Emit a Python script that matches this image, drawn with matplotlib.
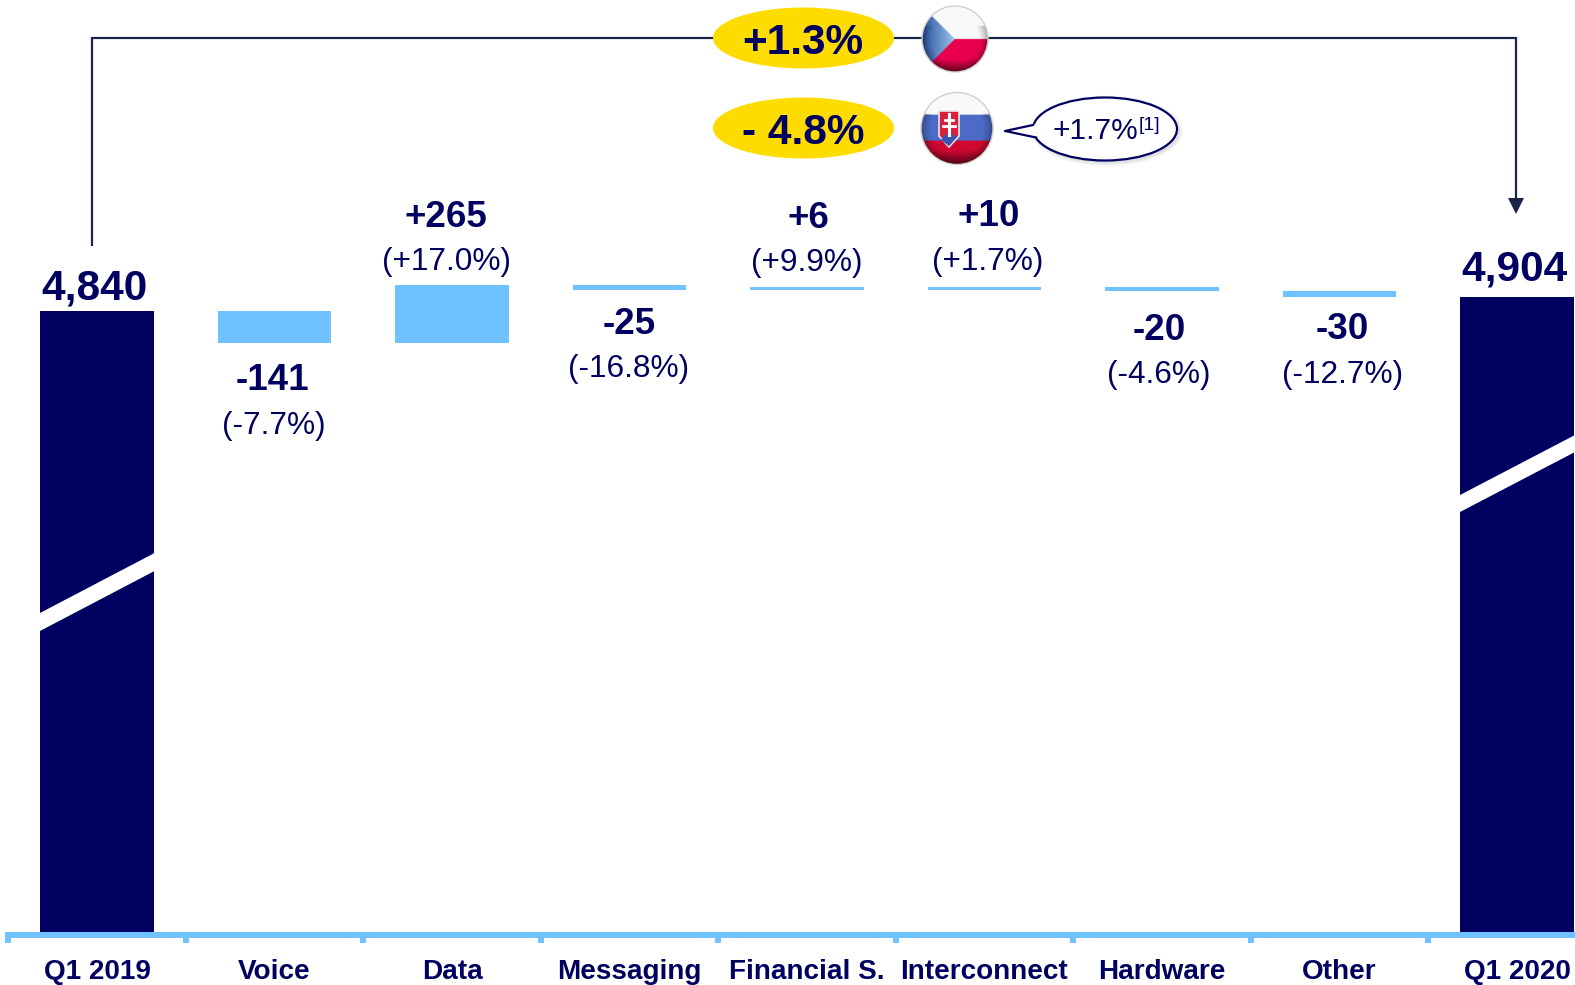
import numpy as np
import matplotlib
matplotlib.use('Agg')
import matplotlib.pyplot as plt
from matplotlib.patches import Ellipse, Polygon, Circle
from matplotlib.ticker import FixedLocator

plt.rcParams['font.family'] = ['Liberation Sans', 'DejaVu Sans']

# Data
categories = ['Q1 2019', 'Voice', 'Data', 'Messaging', 'Financial S.', 'Interconnect', 'Hardware', 'Other', 'Q1 2020']
start_total = 4840
end_total = 4904
# step bars
step_tops = [4840, 4957.5, 4957.5, 4949, 4949, 4949, 4931]
step_bottoms = [4692, 4692, 4937, 4938, 4938, 4930, 4902.6]
delta_labels = ['-141', '+265', '-25', '+6', '+10', '-20', '-30']
pct_labels = ['(-7.7%)', '(+17.0%)', '(-16.8%)', '(+9.9%)', '(+1.7%)', '(-4.6%)', '(-12.7%)']
total_labels = ['4,840', '4,904']
cz_change = '+1.3%'
sk_change = '- 4.8%'
sk_note = '+1.7%'
sk_note_ref = '[1]'

NAVY = '#000060'
BLUE = '#70C1FF'
YELLOW = '#FFDC00'
LINE = '#1A2548'

W, H = 1575, 985
PX_PER_UNIT = 0.2188
BASE = 2002  # truncated axis, value at the baseline

fig = plt.figure(figsize=(W / 100, H / 100), dpi=100)
ax = fig.add_axes([0, 0, 1, 1])
ax.set_xlim(-97 / 177.5, (W - 97) / 177.5)
ax.set_ylim(BASE - (H - 932) / PX_PER_UNIT, BASE + 932 / PX_PER_UNIT)

# Totals and waterfall steps
ax.bar([0, 8], [start_total - BASE, end_total - BASE], bottom=BASE, width=0.64, color=NAVY)
tops = np.array(step_tops)
bottoms = np.array(step_bottoms)
ax.bar(np.arange(1, 8), tops - bottoms, bottom=bottoms, width=0.64, color=BLUE)

# Axis
for s in ['top', 'left', 'right']:
    ax.spines[s].set_visible(False)
ax.spines['bottom'].set_position(('data', BASE - 3 / PX_PER_UNIT))
ax.spines['bottom'].set_color(BLUE)
ax.spines['bottom'].set_linewidth(4.3)
ax.spines['bottom'].set_bounds(-0.5, ax.get_xlim()[1])
ax.set_zorder(1)
ax.set_yticks([])
ax.set_xticks(range(len(categories)))
ax.set_xticklabels(categories, fontsize=20.1, fontweight='bold', color=NAVY)
ax.tick_params(axis='x', which='major', length=0, pad=17)
ax.xaxis.set_minor_locator(FixedLocator(np.arange(-0.5, 8, 1)))
ax.tick_params(axis='x', which='minor', length=6, width=4.3, color=BLUE)

# Value labels, offsets from the top (or bottom) of each bar in pixels
big_offsets = [(-3, 23), (-3, 28)]
for x, v, t, off in zip([0, 8], [start_total, end_total], total_labels, big_offsets):
    ax.annotate(t, (x, v), xytext=off, textcoords='offset pixels', ha='center', va='center',
                fontsize=30.5, fontweight='bold', color=NAVY)

rising = [False, True, False, True, True, False, False]
delta_off = [(-2, -37.5), (-6, 68), (0, -34.5), (1, 69), (4, 71), (-3, -39), (3, -32.5)]
pct_off = [(-1, -83), (-5, 23), (-1, -79.5), (0, 24), (3, 25), (-3, -84), (3, -77.5)]
for i in range(len(delta_labels)):
    y = tops[i] if rising[i] else bottoms[i]
    ax.annotate(delta_labels[i], (i + 1, y), xytext=delta_off[i], textcoords='offset pixels',
                ha='center', va='center', fontsize=26.5, fontweight='bold', color=NAVY)
    ax.annotate(pct_labels[i], (i + 1, y), xytext=pct_off[i], textcoords='offset pixels',
                ha='center', va='center', fontsize=22.8, color=NAVY)

# Overlay in pixel coordinates for the decoration
ov = fig.add_axes([0, 0, 1, 1], zorder=2)
ov.set_xlim(0, W)
ov.set_ylim(H, 0)
ov.axis('off')

# Axis break bands
ov.add_patch(Polygon([(40, 613), (154.5, 553), (154.5, 571), (40, 631)], color='white', lw=0))
ov.add_patch(Polygon([(1460, 495), (W, 435), (W, 452), (1460, 512)], color='white', lw=0))

# Bracket with arrow
ov.plot([91.5, 91.5, 1516, 1516], [245, 38, 38, 200], color=LINE, lw=1.6, solid_joinstyle='miter')
ov.add_patch(Polygon([(1508, 198), (1524, 198), (1516, 214)], color=LINE, lw=0))

# Yellow badges
for cy, txt in [(38, cz_change), (128, sk_change)]:
    ov.add_patch(Ellipse((803.5, cy), 181, 61, color=YELLOW, lw=0, zorder=3))
    ov.text(803, cy + 5, txt, ha='center', va='center', fontsize=30.5, fontweight='bold', color=NAVY, zorder=4)


def flag(cx, cy, r, kind):
    n = 200
    yy, xx = np.mgrid[-1:1:n * 1j, -1:1:n * 1j]
    img = np.zeros((n, n, 3))
    if kind == 'cz':
        img[yy < 0] = (0.98, 0.98, 0.98)
        img[yy >= 0] = (0.92, 0.0, 0.30)
        tri = xx + 1 < 1 - np.abs(yy)
        img[tri] = np.stack([0.16 + 0.45 * (xx[tri] + 1), 0.32 + 0.45 * (xx[tri] + 1), 0.62 + 0.3 * (xx[tri] + 1)], axis=1)
    else:
        img[yy < -0.37] = (0.98, 0.98, 0.98)
        img[(yy >= -0.37) & (yy < 0.35)] = (0.30, 0.42, 0.78)
        img[yy >= 0.35] = (0.82, 0.03, 0.20)
    # round shading, darker to the rim on the lower half only, white gloss on top
    rr = np.sqrt(xx ** 2 + yy ** 2)
    shade = np.clip(1.12 - 0.45 * rr ** 4, 0, 1)
    shade = np.where(yy < -0.4, 1.0, shade)
    shade = shade * np.where(yy > 0.6, 1 - 1.1 * (yy - 0.6), 1)
    img = np.clip(img * shade[..., None], 0, 1)
    im = ov.imshow(img, extent=(cx - r, cx + r, cy + r, cy - r), aspect='auto', zorder=3, interpolation='bilinear')
    im.set_clip_path(Circle((cx, cy), r, transform=ov.transData))
    ov.add_patch(Circle((cx, cy), r, fill=False, ec='#D0D0D0', lw=1, zorder=3))


flag(955, 39, 33, 'cz')
flag(957, 128.5, 36, 'sk')
ov.set_xlim(0, W)
ov.set_ylim(H, 0)

# Slovak shield
ov.add_patch(Polygon([(939, 111), (959, 111), (959, 136), (949, 147), (939, 136)], fc='#D8203C', ec='#E8E8E8', lw=1.2, zorder=4))
ov.add_patch(Polygon([(941, 140), (945, 134), (949, 137), (953, 134), (957, 137), (949, 146)], fc='#3A55B0', lw=0, zorder=4))
ov.plot([949, 949], [114, 135], color='white', lw=2.2, zorder=5)
ov.plot([945, 953], [120, 120], color='white', lw=2, zorder=5)
ov.plot([943, 955], [126, 126], color='white', lw=2, zorder=5)

# Callout with soft shadow
for grow, a in [(8, 0.03), (5, 0.04), (2, 0.05)]:
    ov.add_patch(Ellipse((1107, 131), 144 + grow, 63 + grow, color='black', alpha=a, lw=0, zorder=3))
ov.add_patch(Ellipse((1105, 129), 144, 63, fc='white', ec=NAVY, lw=1.6, zorder=4))
ov.add_patch(Polygon([(1036, 124), (1005, 131), (1036, 137)], fc='white', ec='none', zorder=5))
ov.plot([1033, 1005, 1036], [125, 131, 137.5], color=NAVY, lw=1.6, zorder=5)
ov.text(1053, 131, sk_note, ha='left', va='center', fontsize=21.5, color=NAVY, zorder=6)
ov.text(1139, 126, sk_note_ref, ha='left', va='center', fontsize=14, color=NAVY, zorder=6)

plt.savefig('out.png', dpi=100)
